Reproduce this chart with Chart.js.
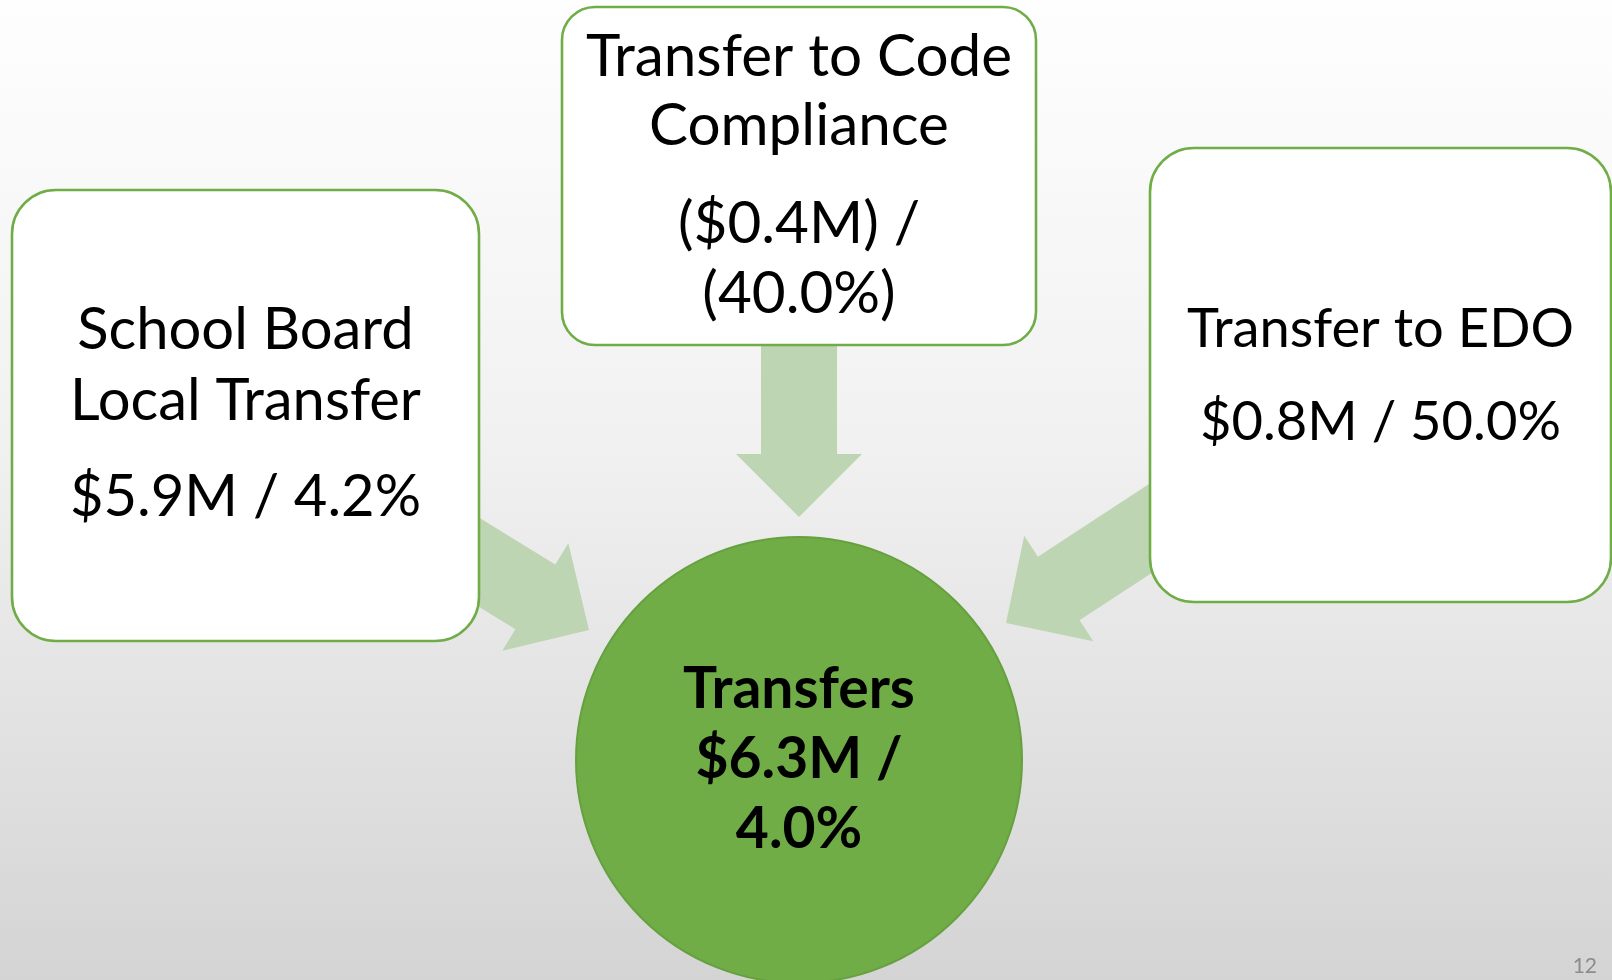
<!DOCTYPE html>
<html><head><meta charset="utf-8">
<script src="https://cdn.jsdelivr.net/npm/chart.js@4.4.1/dist/chart.umd.min.js"></script>
<style>html,body{margin:0;padding:0;background:#fff;overflow:hidden}canvas{display:block}</style>
</head><body>
<canvas id="c" width="1612" height="980"></canvas>
<script>
// ---------------- data ----------------
const sourceNames   = ['School Board Local Transfer', 'Transfer to Code Compliance', 'Transfer to EDO'];
const sourceAmounts = [5.9, -0.4, 0.8];      // $M
const sourceChanges = [4.2, -40.0, 50.0];    // % change
const totalName   = 'Transfers';
const totalAmount = 6.3;                      // $M
const totalChange = 4.0;                      // %
const pageNumber  = '12';

// ---------------- layout (scale units = px of a 1612 x 980 slide) ----------------
const boxLayout = [
  { x0: 12,   y0: 190, x1: 479,  y1: 641, r: 44,
    titleLines: ['School Board', 'Local Transfer'], splitValue: false,
    baselines: [349, 420, 516], targets: [339, 353, 346] },
  { x0: 562,  y0: 7,   x1: 1036, y1: 345, r: 33,
    titleLines: ['Transfer to Code', 'Compliance'], splitValue: true,
    baselines: [76, 145, 243, 313], targets: [424, 302, 242, 193] },
  { x0: 1150, y0: 148, x1: 1611, y1: 602, r: 44,
    titleLines: ['Transfer to EDO'], splitValue: false,
    baselines: [347, 440], targets: [386, 362] }
];
const arrowLayout = [ // tip position, direction (deg, screen coords), total length
  { tipX: 589,  tipY: 630, angle: 31.6,  len: 200 },
  { tipX: 799,  tipY: 517, angle: 90,    len: 190 },
  { tipX: 1006, tipY: 623, angle: 146.8, len: 220 }
];
const arrowShape = { shaft: 76, head: 126, headLen: 63 };
const circleLayout = { cx: 799, cy: 760, r: 223, baselines: [708, 778, 848], targets: [238, 200, 127] };

const style = {
  boxFill: '#FFFFFF', boxStroke: '#70AD47', boxLine: 2.6,
  arrow: '#BDD5B2',
  circleFill: '#70AD47', circleStroke: '#66A03F', circleLine: 2,
  text: '#000000', font: 'Lato', pageColor: '#8C8C8C'
};

// ---------------- helpers ----------------
function fmtMoney(v) { const s = '$' + Math.abs(v).toFixed(1) + 'M'; return v < 0 ? '(' + s + ')' : s; }
function fmtPct(v)   { const s = Math.abs(v).toFixed(1) + '%'; return v < 0 ? '(' + s + ')' : s; }
function valueLines(amount, change, split) {
  return split ? [fmtMoney(amount) + ' /', fmtPct(change)] : [fmtMoney(amount) + ' / ' + fmtPct(change)];
}
function fitSize(ctx, lines, targets, weight) {
  let sum = 0;
  lines.forEach((t, i) => {
    ctx.font = weight + ' 100px ' + style.font;
    sum += targets[i] / ctx.measureText(t).width * 100;
  });
  return sum / lines.length;
}

const diagramPlugin = {
  id: 'diagram',
  beforeDraw(chart) {
    const ctx = chart.ctx, W = chart.width, H = chart.height;
    const g = ctx.createLinearGradient(0, 0, 0, H);
    g.addColorStop(0, '#FEFEFE');
    g.addColorStop(0.45, '#F1F1F1');
    g.addColorStop(1, '#D4D4D4');
    ctx.save(); ctx.fillStyle = g; ctx.fillRect(0, 0, W, H); ctx.restore();
  },
  afterDatasetsDraw(chart) {
    const ctx = chart.ctx;
    const xs = chart.scales.x, ys = chart.scales.y;
    const X = v => xs.getPixelForValue(v), Y = v => ys.getPixelForValue(v);
    const kx = X(1) - X(0);
    ctx.save();

    // arrows (source -> total)
    sourceNames.forEach((_, i) => {
      const a = arrowLayout[i];
      const th = a.angle * Math.PI / 180;
      const sw = arrowShape.shaft / 2 * kx, hw = arrowShape.head / 2 * kx, hl = arrowShape.headLen * kx, L = a.len * kx;
      const pts = [[-L, -sw], [-hl, -sw], [-hl, -hw], [0, 0], [-hl, hw], [-hl, sw], [-L, sw]];
      const tx = X(a.tipX), ty = Y(a.tipY);
      ctx.beginPath();
      pts.forEach(([u, v], k) => {
        const px = tx + u * Math.cos(th) - v * Math.sin(th);
        const py = ty + u * Math.sin(th) + v * Math.cos(th);
        k ? ctx.lineTo(px, py) : ctx.moveTo(px, py);
      });
      ctx.closePath();
      ctx.fillStyle = style.arrow; ctx.fill();
    });

    // source boxes
    ctx.textAlign = 'center'; ctx.textBaseline = 'alphabetic';
    sourceNames.forEach((_, i) => {
      const b = boxLayout[i];
      const x0 = X(b.x0), x1 = X(b.x1), y0 = Y(b.y0), y1 = Y(b.y1);
      ctx.beginPath();
      ctx.roundRect(x0, y0, x1 - x0, y1 - y0, b.r * kx);
      ctx.fillStyle = style.boxFill; ctx.fill();
      ctx.lineWidth = style.boxLine; ctx.strokeStyle = style.boxStroke; ctx.stroke();
      const lines = b.titleLines.concat(valueLines(sourceAmounts[i], sourceChanges[i], b.splitValue));
      const size = fitSize(ctx, lines, b.targets, 'normal') * kx;
      ctx.font = 'normal ' + size.toFixed(1) + 'px ' + style.font;
      ctx.fillStyle = style.text;
      const cx = (x0 + x1) / 2;
      lines.forEach((t, k) => ctx.fillText(t, cx, Y(b.baselines[k])));
    });

    // total circle
    const c = circleLayout;
    ctx.beginPath();
    ctx.arc(X(c.cx), Y(c.cy), c.r * kx, 0, Math.PI * 2);
    ctx.fillStyle = style.circleFill; ctx.fill();
    ctx.lineWidth = style.circleLine; ctx.strokeStyle = style.circleStroke; ctx.stroke();
    const tl = [totalName].concat(valueLines(totalAmount, totalChange, true));
    const ts = fitSize(ctx, tl, c.targets, 'bold') * kx;
    ctx.font = 'bold ' + ts.toFixed(1) + 'px ' + style.font;
    ctx.fillStyle = style.text;
    tl.forEach((t, k) => ctx.fillText(t, X(c.cx), Y(c.baselines[k])));

    // page number
    ctx.font = '21px ' + style.font;
    ctx.fillStyle = style.pageColor;
    ctx.textAlign = 'right';
    ctx.fillText(pageNumber, X(1597), Y(973));
    ctx.restore();
  }
};

function build() {
  new Chart(document.getElementById('c'), {
    type: 'scatter',
    data: {
      datasets: [{
        label: 'nodes',
        data: boxLayout.map(b => ({ x: (b.x0 + b.x1) / 2, y: (b.y0 + b.y1) / 2 })).concat([{ x: circleLayout.cx, y: circleLayout.cy }]),
        pointRadius: 0, pointHoverRadius: 0
      }]
    },
    options: {
      responsive: false, animation: false, devicePixelRatio: 1,
      layout: { padding: 0 },
      events: [],
      scales: {
        x: { type: 'linear', min: 0, max: 1612, display: false },
        y: { type: 'linear', min: 0, max: 980, reverse: true, display: false }
      },
      plugins: { legend: { display: false }, tooltip: { enabled: false }, title: { display: false } }
    },
    plugins: [diagramPlugin]
  });
}
const ready = (document.fonts && document.fonts.load)
  ? Promise.all([document.fonts.load('60px Lato'), document.fonts.load('bold 60px Lato')]).catch(() => {})
  : Promise.resolve();
ready.then(build, build);
</script>
</body></html>
